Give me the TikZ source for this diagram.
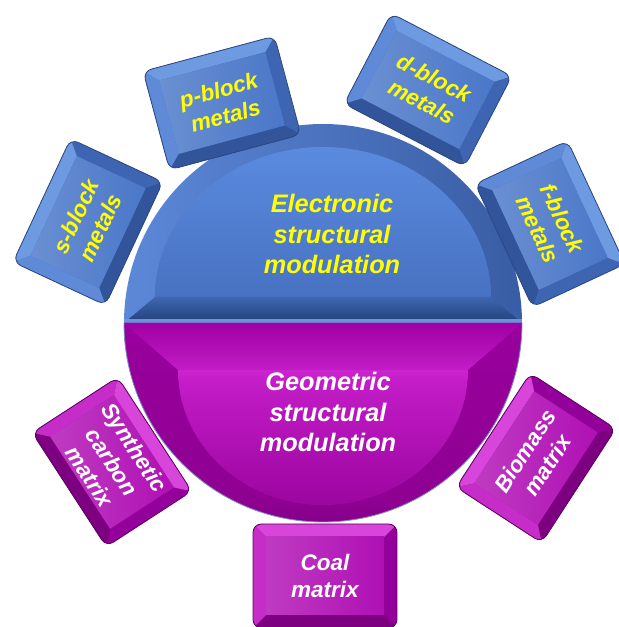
\documentclass[tikz,border=0pt]{standalone}
\usepackage{fontspec}
\setmainfont{Liberation Sans}

\definecolor{bluetop}{HTML}{6E9AE2}
\definecolor{blueleft}{HTML}{5F8AD8}
\definecolor{blueface}{HTML}{4A77C8}
\definecolor{blueright}{HTML}{3E65B2}
\definecolor{bluebottom}{HTML}{31549A}
\definecolor{blueedge}{HTML}{2C4882}
\definecolor{bluetext}{HTML}{FFFF00}
\definecolor{magtop}{HTML}{D845DA}
\definecolor{magleft}{HTML}{C62CC8}
\definecolor{magface}{HTML}{B010B4}
\definecolor{magright}{HTML}{94009A}
\definecolor{magbottom}{HTML}{7C0080}
\definecolor{magedge}{HTML}{5E0060}
\definecolor{magtext}{HTML}{FFFFFF}
% disc colours
\definecolor{domeleft}{HTML}{5C88D8}
\definecolor{domeright}{HTML}{395DA4}
\definecolor{domefacetop}{HTML}{5A8ADE}
\definecolor{domefacebot}{HTML}{4872C2}
\definecolor{bandtop}{HTML}{3F66B0}
\definecolor{bandbot}{HTML}{22407A}
\definecolor{bandline}{HTML}{6C92D8}
\definecolor{bowllow}{HTML}{5A005C}
\definecolor{bowlmid}{HTML}{8E0092}
\definecolor{bowlhigh}{HTML}{A000A4}
\definecolor{facelow}{HTML}{86008A}
\definecolor{facemid}{HTML}{A008A4}
\definecolor{facehigh}{HTML}{C21CC6}
\definecolor{facebright}{HTML}{EE44EE}
\definecolor{rimline}{HTML}{7D8FC8}

\pgfdeclareverticalshading{bowlrim}{100bp}{color(0bp)=(bowllow); color(30bp)=(bowlmid); color(100bp)=(bowlhigh)}
\pgfdeclareverticalshading{bowlface}{100bp}{color(0bp)=(facelow); color(30bp)=(facemid); color(70bp)=(facehigh); color(92bp)=(facebright); color(100bp)=(facebright)}

\tikzset{
  capnode/.style={transform shape, align=center, inner sep=0pt,
    minimum width=3.4cm, minimum height=2.55cm,
    font=\bfseries\itshape\fontsize{16}{19}\selectfont},
  disctext/.style={align=center, font=\bfseries\itshape\fontsize{18}{21.5}\selectfont}
}

\newcommand{\capw}{68}
\newcommand{\caph}{51}
% name, centre, angle, palette, text
\newcommand{\keycap}[5]{%
  \begin{scope}[shift={#2}, rotate=#3]
    \begin{scope}
      \clip[rounded corners=6] (-\capw,-\caph) rectangle (\capw,\caph);
      \fill[#4right] (-\capw,-\caph) rectangle (\capw,\caph);
      \fill[#4top] (-\capw,\caph) -- (\capw,\caph) -- (\capw-13,\caph-13) -- (13-\capw,\caph-13) -- cycle;
      \fill[#4bottom] (-\capw,-\caph) -- (\capw,-\caph) -- (\capw-13,13-\caph) -- (13-\capw,13-\caph) -- cycle;
      \fill[#4left] (-\capw,\caph) -- (13-\capw,\caph-13) -- (13-\capw,13-\caph) -- (-\capw,-\caph) -- cycle;
      \shade[left color=#4face!82!white, right color=#4face] (13-\capw,13-\caph) rectangle (\capw-13,\caph-13);
    \end{scope}
    \draw[#4edge, rounded corners=6, line width=0.6pt] (-\capw,-\caph) rectangle (\capw,\caph);
    \node[capnode, text=#4text] (#1) at (0,0) {#5};
  \end{scope}}

\begin{document}
\begin{tikzpicture}[x=0.025cm, y=0.025cm]
  \useasboundingbox (0,0) rectangle (619,627);

  % upper half
  \shade[left color=domeleft, right color=domeright] (124,304) arc[start angle=180, end angle=0, radius=199] -- cycle;
  \shade[top color=domefacetop, bottom color=domefacebot] (155,330) arc[start angle=180, end angle=0, x radius=168, y radius=150] -- cycle;
  \shade[top color=bandtop, bottom color=bandbot] (124,304) -- (522,304) -- (491,330) -- (155,330) -- cycle;
  \fill[bandline] (124,304) rectangle (522,308);

  % lower half
  \shade[shading=bowlrim] (124,304) arc[start angle=180, end angle=360, radius=199] -- cycle;
  \shade[shading=bowlface] (178,257) arc[start angle=180, end angle=360, x radius=145, y radius=135] -- cycle;
  \shade[top color=bowlhigh, bottom color=facehigh] (124,304) -- (522,304) -- (468,257) -- (178,257) -- cycle;
  \draw[rimline, line width=0.6pt] (124,304) arc[start angle=180, end angle=360, radius=199];

  \node[disctext, text=bluetext] (elec) at (332,393) {Electronic\\structural\\modulation};
  \node[disctext, text=white] (geom) at (328,215) {Geometric\\structural\\modulation};

  \keycap{sblock}{(88,405)}{65}{blue}{s-block\\metals}
  \keycap{pblock}{(222,524)}{15}{blue}{p-block\\metals}
  \keycap{dblock}{(428,537)}{-27.5}{blue}{d-block\\metals}
  \keycap{fblock}{(550,403)}{-65}{blue}{f-block\\metals}
  \keycap{synth}{(112,165)}{-57}{mag}{Synthetic\\carbon\\matrix}
  \keycap{biomass}{(536,169)}{57}{mag}{Biomass\\matrix}
  {\renewcommand{\capw}{72}\renewcommand{\caph}{52}%
  \keycap{coal}{(325,51)}{0}{mag}{Coal\\matrix}}
\end{tikzpicture}
\end{document}
